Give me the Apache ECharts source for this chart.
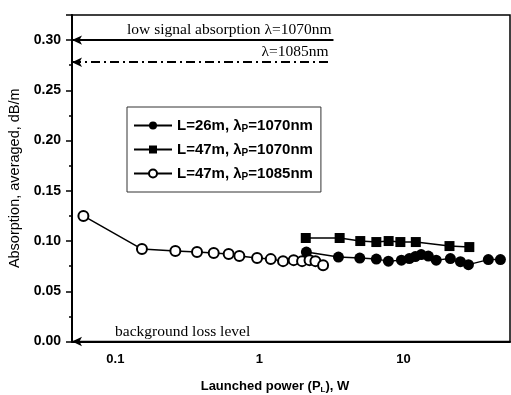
<!DOCTYPE html>
<html>
<head>
<meta charset="utf-8">
<script src="https://cdn.jsdelivr.net/npm/echarts@6/dist/echarts.min.js"></script>
<style>
  html, body { margin: 0; padding: 0; background: #fff; }
  #chart { width: 511px; height: 395px; }
</style>
</head>
<body>
<div id="chart"></div>
<script>
// L=26m, lambda_p=1070nm (filled circles)
const filledX = [2.12, 3.54, 4.98, 6.49, 7.87, 9.69, 11.0, 12.1, 13.3, 14.9, 16.9, 21.2, 24.9, 28.3, 38.9, 47.2];
const filledY = [0.089, 0.084, 0.083, 0.082, 0.080, 0.081, 0.0825, 0.0845, 0.0865, 0.085, 0.081, 0.0825, 0.0795, 0.0765, 0.0815, 0.0815];
// L=47m, lambda_p=1070nm (squares)
const squareX = [2.10, 3.61, 5.02, 6.49, 7.90, 9.53, 12.2, 20.9, 28.7];
const squareY = [0.103, 0.103, 0.100, 0.099, 0.100, 0.099, 0.099, 0.095, 0.094];
// L=47m, lambda_p=1085nm (open circles)
const openX = [0.06, 0.153, 0.261, 0.369, 0.482, 0.612, 0.726, 0.964, 1.20, 1.46, 1.73, 1.98, 2.23, 2.45, 2.77];
const openY = [0.125, 0.092, 0.090, 0.089, 0.088, 0.087, 0.085, 0.083, 0.082, 0.080, 0.081, 0.080, 0.081, 0.080, 0.076];

const seriesNames = ['L=26m, λP=1070nm', 'L=47m, λP=1070nm', 'L=47m, λP=1085nm'];

// reference levels: [value, x where the line ends]
const lowSignal1070 = [0.30, 3.27];
const lowSignal1085 = [0.278, 3.12];
const backgroundLoss = [0.0, 1.72];

const xMajor = [0.1, 1, 10];
const xMinor = [0.06, 0.07, 0.08, 0.09, 0.2, 0.3, 0.4, 0.5, 0.6, 0.7, 0.8, 0.9,
  2, 3, 4, 5, 6, 7, 8, 9, 20, 30, 40, 50];

const pairs = (xs, ys) => xs.map((x, i) => [x, ys[i]]);

const sans = 'Liberation Sans, Arial, sans-serif';
const serif = 'Liberation Serif, Times New Roman, serif';

const chart = echarts.init(document.getElementById('chart'));

const levelLabel = {
  show: true, distance: 2,
  fontFamily: serif, fontSize: 15.5, color: '#000'
};

// log-axis ticks (decade and 2..9 sub ticks), drawn below the x axis line
const tickLines = xMajor.map(v => [{ coord: [v, 0] }, { coord: [v, -0.0065] }])
  .concat(xMinor.map(v => [{ coord: [v, 0] }, { coord: [v, -0.0045] }]));

const option = {
  animation: false,
  backgroundColor: '#fff',
  grid: {
    left: 72, right: 1, top: 15, bottom: 53.5,
    containLabel: false,
    outerBoundsMode: 'none',
    show: true, borderColor: '#000', borderWidth: 1.5
  },
  legend: {
    data: seriesNames,
    orient: 'vertical',
    left: 127, top: 107,
    backgroundColor: '#fff',
    borderColor: '#333',
    borderWidth: 1,
    padding: [11, 8, 10, 6],
    itemWidth: 38,
    itemHeight: 10,
    itemGap: 8,
    formatter: function (name) {
      const parts = name.split('λP');
      return '{t|' + parts[0] + 'λ}{s|P}{t|' + parts[1] + '}';
    },
    textStyle: {
      rich: {
        t: { fontFamily: sans, fontWeight: 'bold', fontSize: 15, color: '#000' },
        s: { fontFamily: sans, fontWeight: 'bold', fontSize: 10, color: '#000', verticalAlign: 'bottom', padding: [7, 0, 0, 0] }
      }
    }
  },
  xAxis: {
    type: 'log',
    logBase: 10,
    min: 0.05,
    max: 55,
    splitLine: { show: false },
    position: 'bottom',
    name: '{t|Launched power (P}{s|L}{t|), W}',
    nameLocation: 'middle',
    nameGap: 37,
    nameTextStyle: {
      padding: [0, 32, 0, 0],
      rich: {
        t: { fontFamily: sans, fontWeight: 'bold', fontSize: 13, color: '#000' },
        s: { fontFamily: sans, fontWeight: 'bold', fontSize: 8, color: '#000', padding: [7, 0, 0, 0] }
      }
    },
    axisLine: { show: true, lineStyle: { color: '#000', width: 2 } },
    axisTick: { show: false },
    axisLabel: {
      customValues: xMajor,
      margin: 11,
      fontFamily: sans, fontWeight: 'bold', fontSize: 13, color: '#000',
      formatter: v => String(v)
    }
  },
  yAxis: {
    type: 'value',
    min: 0,
    max: 0.325,
    interval: 0.05,
    name: 'Absorption, averaged, dB/m',
    nameLocation: 'middle',
    nameGap: 50,
    nameTextStyle: { fontFamily: sans, fontSize: 14.5, color: '#000' },
    splitLine: { show: false },
    axisLine: { show: true, lineStyle: { color: '#000', width: 2 } },
    axisTick: { show: true, inside: false, length: 6, lineStyle: { color: '#000', width: 1.5 } },
    minorTick: { show: true, splitNumber: 2, length: 3, lineStyle: { color: '#000', width: 1.5 } },
    axisLabel: {
      margin: 11,
      fontFamily: sans, fontWeight: 'bold', fontSize: 14, color: '#000',
      formatter: v => (Math.abs(v * 20 - Math.round(v * 20)) < 1e-6 ? v.toFixed(2) : '')
    }
  },
  series: [
    {
      name: seriesNames[0],
      type: 'line',
      data: pairs(filledX, filledY),
      symbol: 'circle',
      symbolSize: 11,
      itemStyle: { color: '#000' },
      lineStyle: { color: '#000', width: 1.5 },
      z: 3
    },
    {
      name: seriesNames[1],
      type: 'line',
      data: pairs(squareX, squareY),
      symbol: 'rect',
      symbolSize: 10,
      itemStyle: { color: '#000' },
      lineStyle: { color: '#000', width: 1.5 },
      z: 3
    },
    {
      name: seriesNames[2],
      type: 'line',
      data: pairs(openX, openY),
      symbol: 'circle',
      symbolSize: 10,
      showAllSymbol: true,
      itemStyle: { color: '#fff', borderColor: '#000', borderWidth: 2 },
      lineStyle: { color: '#000', width: 1.5 },
      z: 4
    },
    {
      name: 'levels',
      type: 'line',
      data: [],
      markLine: {
        silent: true,
        symbol: ['arrow', 'none'],
        symbolSize: [7, 10],
        animation: false,
        data: [
          [
            { coord: [0.05, lowSignal1070[0]], lineStyle: { color: '#000', width: 2, type: 'solid' },
              label: Object.assign({}, levelLabel, { position: 'insideEndTop', formatter: 'low signal absorption λ=1070nm' }) },
            { coord: [lowSignal1070[1], lowSignal1070[0]] }
          ],
          [
            { coord: [0.05, lowSignal1085[0]], lineStyle: { color: '#000', width: 2, type: [9, 4, 2, 4] },
              label: Object.assign({}, levelLabel, { position: 'insideEndTop', formatter: 'λ=1085nm' }) },
            { coord: [lowSignal1085[1], lowSignal1085[0]] }
          ],
          [
            { coord: [0.05, backgroundLoss[0]], lineStyle: { color: '#000', width: 2, type: 'solid' },
              label: Object.assign({}, levelLabel, { position: 'insideMiddleTop', formatter: 'background loss level' }) },
            { coord: [backgroundLoss[1], backgroundLoss[0]] }
          ]
        ]
      }
    },
    {
      name: 'xticks',
      type: 'line',
      data: [],
      clip: false,
      markLine: {
        silent: true,
        symbol: ['none', 'none'],
        animation: false,
        label: { show: false },
        lineStyle: { color: '#000', width: 1.5, type: 'solid' },
        data: tickLines
      }
    }
  ]
};

chart.setOption(option);
</script>
</body>
</html>
